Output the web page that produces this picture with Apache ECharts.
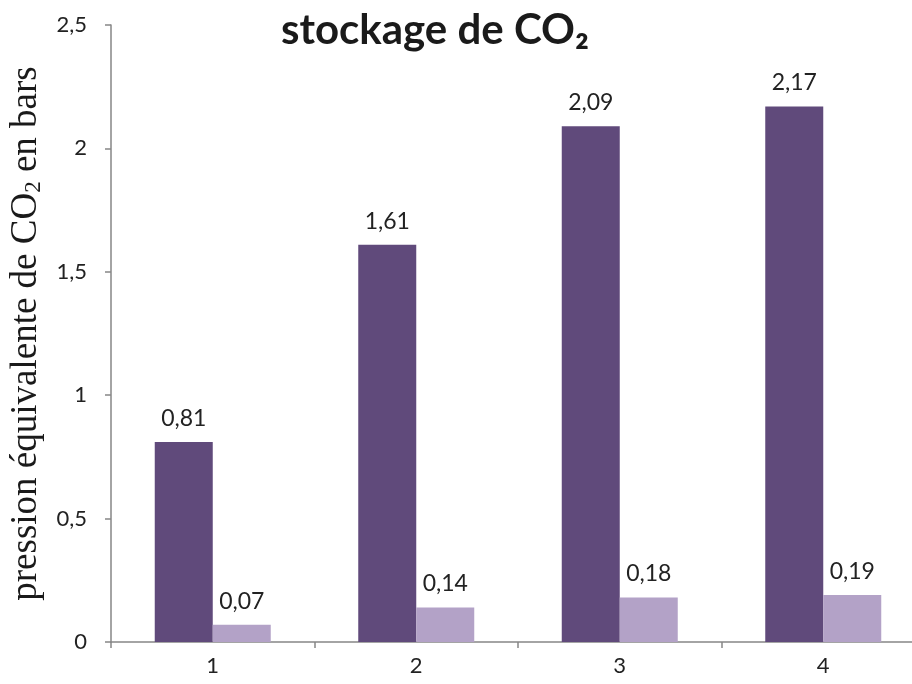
<!DOCTYPE html>
<html><head><meta charset="utf-8">
<script src="https://cdn.jsdelivr.net/npm/echarts@6/dist/echarts.min.js"></script>
<style>html,body{margin:0;padding:0;background:#fff}#c{width:912px;height:684px}</style>
</head><body><div id="c"></div>
<script>
const categories = ['1', '2', '3', '4'];
const seriesDark = [0.81, 1.61, 2.09, 2.17];
const seriesLight = [0.07, 0.14, 0.18, 0.19];
const yTicks = [0, 0.5, 1, 1.5, 2, 2.5];

const fmt = v => String(v).replace('.', ',');
const FONT = 'Lato';
const chart = echarts.init(document.getElementById('c'));
const labelStyle = {
  show: true, position: 'top', distance: 12,
  color: '#222', fontSize: 23, fontFamily: FONT,
  formatter: p => fmt(p.value)
};
chart.setOption({
  animation: false,
  title: {
    text: 'stockage de CO₂', left: 276, top: 4,
    textStyle: { fontFamily: FONT, fontWeight: 'bold', fontSize: 42, color: '#1a1a1a' }
  },
  grid: { left: 111, width: 814, top: 25, bottom: 42, containLabel: false, outerBoundsMode: 'none' },
  xAxis: {
    type: 'category', data: categories,
    axisLine: { lineStyle: { color: '#868686', width: 1.5 } },
    axisTick: { show: true, length: 6, lineStyle: { color: '#868686', width: 1.5 } },
    axisLabel: { color: '#222', fontSize: 22, fontFamily: FONT, margin: 13 }
  },
  yAxis: {
    type: 'value', min: yTicks[0], max: yTicks[yTicks.length - 1], interval: 0.5,
    axisLine: { show: true, lineStyle: { color: '#868686', width: 1.5 } },
    axisTick: { show: true, length: 6, lineStyle: { color: '#868686', width: 1.5 } },
    splitLine: { show: false },
    axisLabel: { color: '#222', fontSize: 22, fontFamily: FONT, margin: 24, formatter: v => fmt(v) },
    name: '{a|pression équivalente de CO}{s|2}{a| en bars}',
    nameLocation: 'middle', nameRotate: 90, nameGap: 64,
    nameTextStyle: {
      rich: {
        a: { fontFamily: 'Liberation Serif', fontSize: 37, color: '#1a1a1a' },
        s: { fontFamily: 'Liberation Serif', fontSize: 23, color: '#1a1a1a', verticalAlign: 'bottom', padding: [16, 0, 0, 0] }
      }
    }
  },
  series: [
    { type: 'bar', data: seriesDark, barWidth: '28.5%', barGap: '0%',
      itemStyle: { color: '#604A7B' }, label: labelStyle },
    { type: 'bar', data: seriesLight, barWidth: '28.5%', barGap: '0%',
      itemStyle: { color: '#B3A2C7' }, label: labelStyle }
  ]
});
</script></body></html>
